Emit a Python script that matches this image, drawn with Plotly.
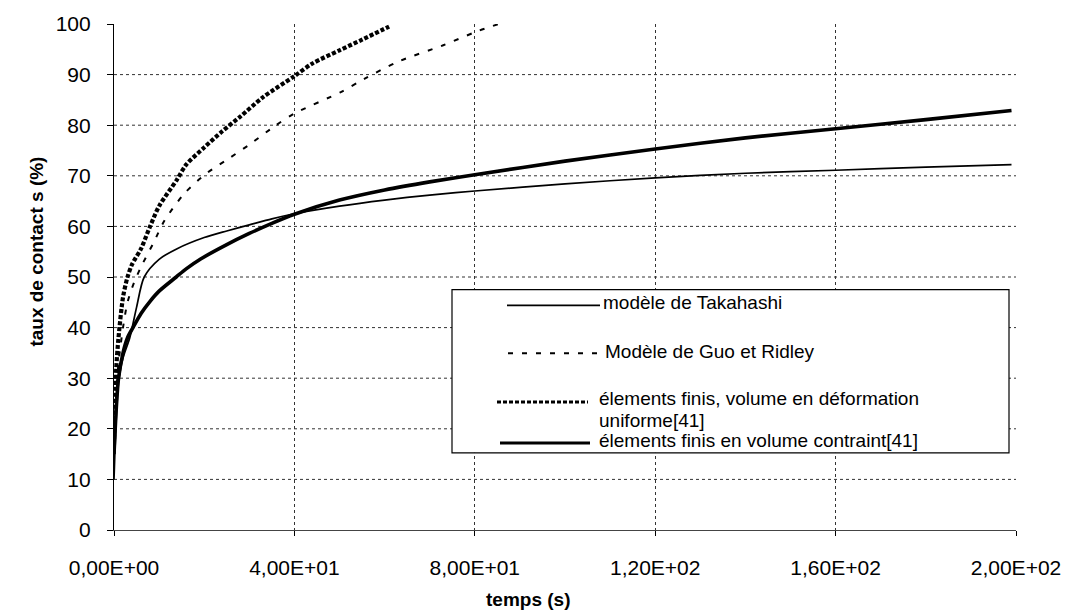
import plotly.graph_objects as go

# --- data -------------------------------------------------------------
# Takahashi model
t_taka = [0, 0.5, 1, 2, 3.5, 5, 6.7, 10, 14, 20, 25, 30, 35, 40, 50, 60, 70, 80,
          100, 120, 140, 160, 180, 199]
s_taka = [10, 22, 29, 34, 38, 44, 50, 53.5, 55.6, 57.8, 59.1, 60.3, 61.5, 62.5, 64,
          65.2, 66.2, 67, 68.4, 69.6, 70.5, 71.1, 71.7, 72.2]

# Guo & Ridley model
t_guo = [0, 0.5, 1, 2, 3, 4.4, 6, 8.9, 11.1, 15.6, 20.7, 25.1, 30.4, 35.6, 40,
         50.4, 55.6, 63.1, 73, 80.4, 85.3]
s_guo = [15, 27, 33, 40, 45, 48.8, 52, 57, 61, 66.5, 70.6, 73.2, 76.4, 79.8, 82.3,
         86.6, 89.2, 92.6, 95.8, 98.5, 100]

# finite elements, uniformly deforming volume
t_fe_uni = [0, 0.5, 1, 2, 3, 4, 6, 8, 10, 14, 16, 20, 24, 28, 33, 40, 44, 50, 55, 61]
s_fe_uni = [18, 32, 38, 46, 50, 52.5, 55.6, 60, 64, 69.3, 72.2, 75.6, 78.8, 81.7,
            85.5, 89.7, 92.2, 94.8, 96.9, 99.5]

# finite elements, constrained volume
t_fe_con = [0, 0.5, 1, 2, 3, 4.2, 6, 8, 10, 13.8, 16, 19.3, 25, 30, 35, 40, 50, 60,
            70, 80, 100, 120, 140, 160, 180, 199]
s_fe_con = [15, 24, 30, 35, 38, 40, 42.8, 45.2, 47.2, 50, 51.6, 53.6, 56.4, 58.6, 60.6,
            62.4, 65.2, 67.2, 68.8, 70.2, 72.9, 75.3, 77.5, 79.3, 81.1, 82.9]

series_names = [
    "modèle de Takahashi",
    "Modèle de Guo et Ridley",
    "élements finis, volume en déformation<br>uniforme[41]",
    "élements finis en volume contraint[41]",
]

x_tickvals = [0, 40, 80, 120, 160, 200]
x_ticktext = ["0,00E+00", "4,00E+01", "8,00E+01", "1,20E+02", "1,60E+02", "2,00E+02"]
y_tickvals = [0, 10, 20, 30, 40, 50, 60, 70, 80, 90, 100]
y_gridvals = [10, 20, 30, 40, 50, 60, 70, 80, 90]

# --- styling ----------------------------------------------------------
FONT = "Liberation Sans, Arial, sans-serif"
styles = [
    dict(color="black", width=1.7),
    dict(color="black", width=2, dash="5px,9px"),
    dict(color="black", width=4.2, dash="4px,2px"),
    dict(color="black", width=3.6),
]

W, H = 1077, 616
L, R, T, B = 114, 61, 12, 86
PW, PH = W - L - R, H - T - B

fig = go.Figure()
for (tx, sy), name, st in zip(
    [(t_taka, s_taka), (t_guo, s_guo), (t_fe_uni, s_fe_uni), (t_fe_con, s_fe_con)],
    series_names, styles,
):
    fig.add_trace(go.Scatter(x=tx, y=sy, mode="lines", name=name, line=st,
                             showlegend=False, line_shape="spline",
                             line_smoothing=0.8))

# horizontal dotted gridlines (none on the top edge)
for v in y_gridvals:
    fig.add_hline(y=v, line=dict(color="#333", width=1, dash="dot"), layer="below")


def px(x):
    return (x - L) / PW


def py(y):
    return (H - B - y) / PH


# legend box
fig.add_shape(type="rect", xref="paper", yref="paper",
              x0=px(452), x1=px(1009), y0=py(451), y1=py(284),
              line=dict(color="black", width=1.2), fillcolor="white", layer="above")

legend_rows = [
    # line x0, x1, line y, text x, text y per line
    (507, 600, 300, 601, [297]),
    (508, 600, 349, 603, [347]),
    (497, 588, 399, 597, [395, 418]),
    (500, 590, 441, 597, [438]),
]
for (lx0, lx1, ly, tx, tys), name, st in zip(legend_rows, series_names, styles):
    fig.add_shape(type="line", xref="paper", yref="paper",
                  x0=px(lx0), x1=px(lx1), y0=py(ly), y1=py(ly),
                  line=dict(color=st["color"], width=min(st["width"], 3),
                            dash=st.get("dash", "solid")), layer="above")
    parts = name.split("<br>")
    for part, ty in zip(parts, tys):
        fig.add_annotation(xref="paper", yref="paper", x=px(tx), y=py(ty),
                           text=part, showarrow=False, xanchor="left",
                           yanchor="middle",
                           font=dict(family=FONT, size=19, color="black"))

# axis titles
fig.add_annotation(xref="paper", yref="paper", x=px(528), y=py(601),
                   text="<b>temps (s)</b>", showarrow=False,
                   xanchor="center", yanchor="middle",
                   font=dict(family=FONT, size=19, color="black"))
fig.add_annotation(xref="paper", yref="paper", x=px(37), y=py(245),
                   text="<b>taux de contact s (%)</b>", showarrow=False,
                   textangle=-90, xanchor="center", yanchor="middle",
                   font=dict(family=FONT, size=19, color="black"))

fig.update_xaxes(
    range=[0, 200], tickmode="array", tickvals=x_tickvals, ticktext=x_ticktext,
    showgrid=True, gridcolor="#333", griddash="dot", gridwidth=1,
    showline=True, linecolor="#444", linewidth=1.2,
    ticks="outside", ticklen=5, tickcolor="black",
    tickfont=dict(family=FONT, size=21, color="black"),
    ticklabelstandoff=14, zeroline=False,
)
fig.update_yaxes(
    range=[0, 100], tickmode="array", tickvals=y_tickvals,
    showgrid=False, showline=True, linecolor="black", linewidth=1.2,
    ticks="outside", ticklen=6, tickcolor="black",
    tickfont=dict(family=FONT, size=21, color="black"),
    ticklabelstandoff=12, zeroline=False,
)

fig.update_layout(
    width=W, height=H,
    margin=dict(l=L, r=R, t=T, b=B, pad=0),
    plot_bgcolor="white", paper_bgcolor="white",
    font=dict(family=FONT, color="black"),
)

fig.write_html("out.html")
